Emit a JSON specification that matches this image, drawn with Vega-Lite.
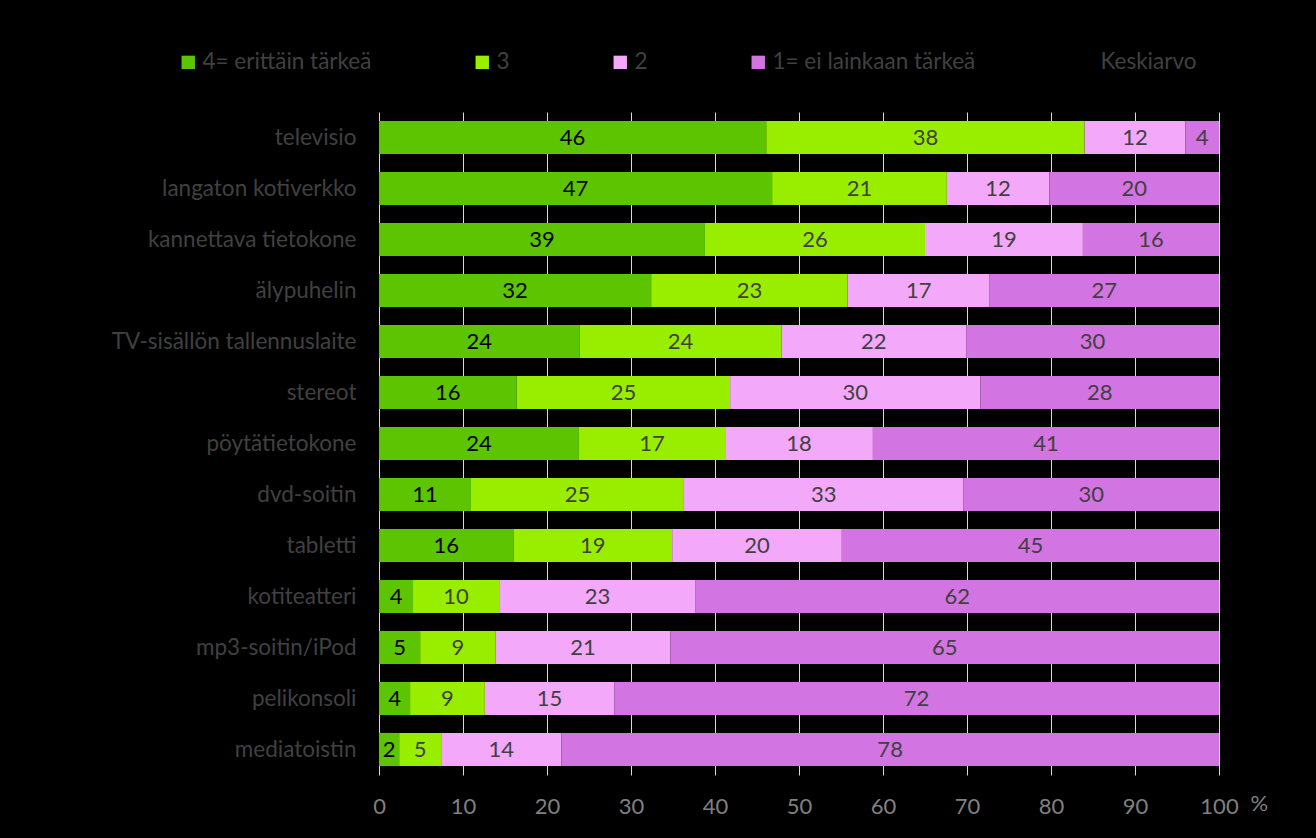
{
  "$schema": "https://vega.github.io/schema/vega-lite/v6.json",
  "width": 840,
  "height": 663,
  "autosize": {"type": "none"},
  "padding": {"left": 379, "top": 112, "right": 97, "bottom": 63},
  "background": "#000000",
  "config": {
    "view": {"stroke": null},
    "font": "Lato",
    "text": {"font": "Lato"}
  },
  "data": {
    "values": [
      {"cat": "televisio", "level": "4= erittäin tärkeä", "value": 46.1},
      {"cat": "televisio", "level": "3", "value": 37.9},
      {"cat": "televisio", "level": "2", "value": 12.0},
      {"cat": "televisio", "level": "1= ei lainkaan tärkeä", "value": 4.0},
      {"cat": "langaton kotiverkko", "level": "4= erittäin tärkeä", "value": 46.8},
      {"cat": "langaton kotiverkko", "level": "3", "value": 20.8},
      {"cat": "langaton kotiverkko", "level": "2", "value": 12.2},
      {"cat": "langaton kotiverkko", "level": "1= ei lainkaan tärkeä", "value": 20.2},
      {"cat": "kannettava tietokone ", "level": "4= erittäin tärkeä", "value": 38.8},
      {"cat": "kannettava tietokone ", "level": "3", "value": 26.2},
      {"cat": "kannettava tietokone ", "level": "2", "value": 18.8},
      {"cat": "kannettava tietokone ", "level": "1= ei lainkaan tärkeä", "value": 16.2},
      {"cat": "älypuhelin", "level": "4= erittäin tärkeä", "value": 32.4},
      {"cat": "älypuhelin", "level": "3", "value": 23.4},
      {"cat": "älypuhelin", "level": "2", "value": 16.9},
      {"cat": "älypuhelin", "level": "1= ei lainkaan tärkeä", "value": 27.3},
      {"cat": "TV-sisällön tallennuslaite", "level": "4= erittäin tärkeä", "value": 23.9},
      {"cat": "TV-sisällön tallennuslaite", "level": "3", "value": 24.0},
      {"cat": "TV-sisällön tallennuslaite", "level": "2", "value": 22.0},
      {"cat": "TV-sisällön tallennuslaite", "level": "1= ei lainkaan tärkeä", "value": 30.1},
      {"cat": "stereot", "level": "4= erittäin tärkeä", "value": 16.4},
      {"cat": "stereot", "level": "3", "value": 25.4},
      {"cat": "stereot", "level": "2", "value": 29.8},
      {"cat": "stereot", "level": "1= ei lainkaan tärkeä", "value": 28.4},
      {"cat": "pöytätietokone", "level": "4= erittäin tärkeä", "value": 23.8},
      {"cat": "pöytätietokone", "level": "3", "value": 17.4},
      {"cat": "pöytätietokone", "level": "2", "value": 17.6},
      {"cat": "pöytätietokone", "level": "1= ei lainkaan tärkeä", "value": 41.2},
      {"cat": "dvd-soitin", "level": "4= erittäin tärkeä", "value": 10.95},
      {"cat": "dvd-soitin", "level": "3", "value": 25.35},
      {"cat": "dvd-soitin", "level": "2", "value": 33.3},
      {"cat": "dvd-soitin", "level": "1= ei lainkaan tärkeä", "value": 30.4},
      {"cat": "tabletti", "level": "4= erittäin tärkeä", "value": 16.0},
      {"cat": "tabletti", "level": "3", "value": 18.9},
      {"cat": "tabletti", "level": "2", "value": 20.2},
      {"cat": "tabletti", "level": "1= ei lainkaan tärkeä", "value": 44.9},
      {"cat": "kotiteatteri", "level": "4= erittäin tärkeä", "value": 4.05},
      {"cat": "kotiteatteri", "level": "3", "value": 10.25},
      {"cat": "kotiteatteri", "level": "2", "value": 23.4},
      {"cat": "kotiteatteri", "level": "1= ei lainkaan tärkeä", "value": 62.3},
      {"cat": "mp3-soitin/iPod", "level": "4= erittäin tärkeä", "value": 4.9},
      {"cat": "mp3-soitin/iPod", "level": "3", "value": 9.0},
      {"cat": "mp3-soitin/iPod", "level": "2", "value": 20.8},
      {"cat": "mp3-soitin/iPod", "level": "1= ei lainkaan tärkeä", "value": 65.3},
      {"cat": "pelikonsoli", "level": "4= erittäin tärkeä", "value": 3.7},
      {"cat": "pelikonsoli", "level": "3", "value": 8.9},
      {"cat": "pelikonsoli", "level": "2", "value": 15.4},
      {"cat": "pelikonsoli", "level": "1= ei lainkaan tärkeä", "value": 72.0},
      {"cat": "mediatoistin", "level": "4= erittäin tärkeä", "value": 2.4},
      {"cat": "mediatoistin", "level": "3", "value": 5.0},
      {"cat": "mediatoistin", "level": "2", "value": 14.3},
      {"cat": "mediatoistin", "level": "1= ei lainkaan tärkeä", "value": 78.3}
    ]
  },
  "encoding": {
    "y": {
      "field": "cat",
      "type": "nominal",
      "sort": null,
      "scale": {"paddingInner": 0.35},
      "axis": {
        "title": null,
        "ticks": false,
        "domain": false,
        "grid": false,
        "labelFontSize": 22.5,
        "labelColor": "#404040",
        "labelPadding": 23,
        "labelFont": "Lato",
        "labelLimit": 400
      }
    }
  },
  "layer": [
    {
      "mark": {"type": "bar"},
      "encoding": {
        "x": {
          "field": "value",
          "type": "quantitative",
          "stack": "zero",
          "scale": {"domain": [0, 100], "nice": false},
          "axis": {
            "values": [0, 10, 20, 30, 40, 50, 60, 70, 80, 90, 100],
            "grid": true,
            "gridColor": "#D9D9D9",
            "gridWidth": 1,
            "domain": false,
            "ticks": false,
            "labelFlush": false,
            "labelFontSize": 22,
            "labelColor": "#808080",
            "labelPadding": 21,
            "labelFont": "Lato",
            "title": "%",
            "titleFontSize": 22,
            "titleFontWeight": "normal",
            "titleColor": "#808080",
            "titleFont": "Lato",
            "titleAnchor": "start",
            "titleAlign": "left",
            "titleBaseline": "middle",
            "titleX": 871,
            "titleY": 28
          }
        },
        "color": {
          "field": "level",
          "type": "nominal",
          "sort": ["4= erittäin tärkeä", "3", "2", "1= ei lainkaan tärkeä"],
          "scale": {
            "domain": ["4= erittäin tärkeä", "3", "2", "1= ei lainkaan tärkeä", "Keskiarvo"],
            "range": ["#5CC400", "#99EE00", "#F4A8F9", "#D274E1", "#000000"]
          },
          "legend": {
            "title": null,
            "orient": "none",
            "direction": "horizontal",
            "legendX": -202,
            "legendY": -61,
            "columns": 5,
            "columnPadding": 99,
            "symbolType": "square",
            "symbolSize": 180,
            "symbolStrokeWidth": 0,
            "labelFontSize": 22.5,
            "labelColor": "#404040",
            "labelFont": "Lato",
            "labelOffset": 3,
            "labelLimit": 400
          }
        },
        "order": {"field": "level", "sort": "descending"}
      }
    },
    {
      "mark": {"type": "text", "fontSize": 22, "font": "Lato", "baseline": "middle", "align": "center"},
      "encoding": {
        "x": {
          "field": "value",
          "type": "quantitative",
          "stack": "zero",
          "bandPosition": 0.5
        },
        "detail": {"field": "level", "type": "nominal"},
        "order": {"field": "level", "sort": "descending"},
        "text": {"field": "value", "type": "quantitative", "format": ".0f"},
        "color": {
          "condition": {"test": "datum.level === '4= erittäin tärkeä'", "value": "#000000"},
          "value": "#404040"
        }
      }
    }
  ]
}
